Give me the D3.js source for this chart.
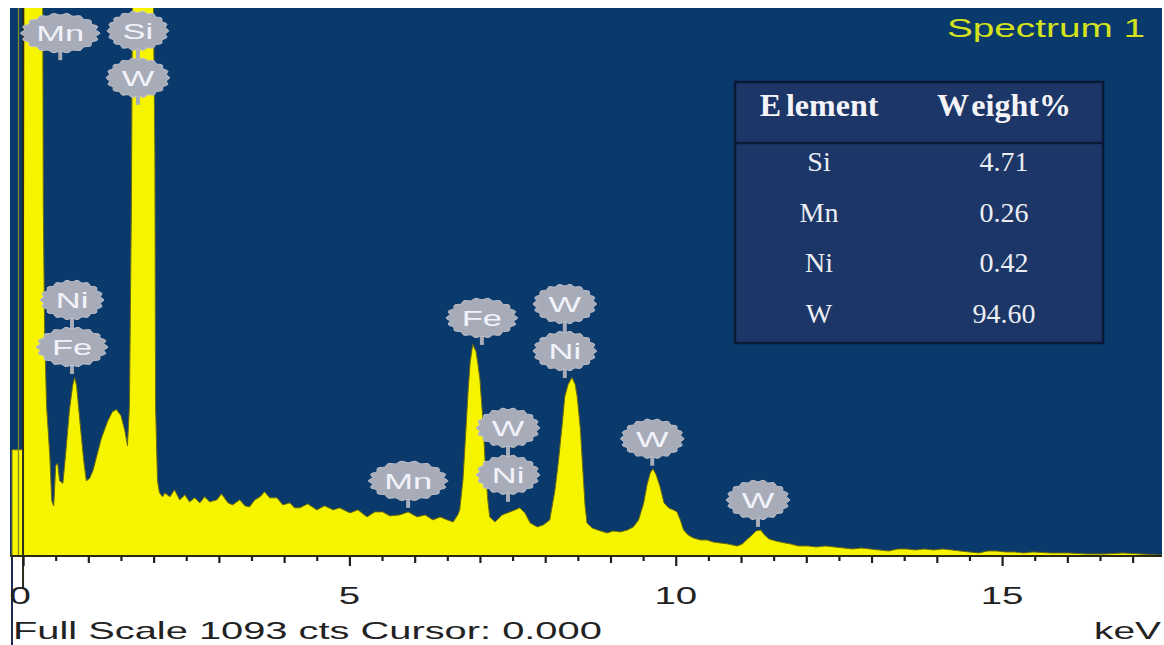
<!DOCTYPE html>
<html><head><meta charset="utf-8">
<script src="https://cdn.jsdelivr.net/npm/d3@7"></script>
<style>html,body{margin:0;padding:0;background:#fff;}svg{display:block;}</style>
</head><body>
<script>
// ---------- data ----------
const energyKeV = [-0.17,-0.02,0.00,0.02,0.28,0.30,0.31,0.33,0.36,0.41,0.44,0.47,0.50,0.53,0.56,0.61,0.65,0.71,0.76,0.79,0.82,0.87,0.93,0.97,1.02,1.07,1.13,1.20,1.30,1.37,1.43,1.50,1.56,1.60,1.63,1.66,1.69,1.97,1.99,2.02,2.03,2.06,2.09,2.14,
2.17,2.25,2.32,2.40,2.48,2.55,2.63,2.71,2.78,2.86,2.97,3.04,3.14,3.21,3.32,3.40,3.47,3.55,3.63,3.70,3.78,3.89,3.98,4.09,4.16,4.24,4.36,4.50,4.62,4.75,4.85,5.01,5.13,5.27,5.39,5.51,5.62,5.77,5.90,6.04,6.16,6.28,6.39,6.50,6.59,6.66,6.69,6.74,6.77,6.82,6.85,6.89,6.94,6.97,7.00,7.05,7.08,7.12,7.15,7.23,7.34,7.46,7.54,7.61,7.69,7.77,7.88,7.97,8.07,8.15,8.20,8.26,8.30,8.35,8.41,8.46,8.49,8.54,8.57,8.61,8.64,8.72,8.80,8.95,9.04,9.15,9.26,9.35,9.43,9.51,9.56,9.61,9.65,9.70,9.76,9.82,9.89,9.96,10.02,10.07,10.12,10.19,10.27,10.38,10.48,10.57,10.68,10.80,10.94,11.02,11.10,11.17,11.23,11.30,11.36,11.43,11.53,11.60,11.76,11.88,12.03,12.15,12.29,12.43,12.57,12.71,12.84,12.98,13.12,13.26,13.40,13.54,13.67,13.81,13.95,14.09,14.23,14.36,14.50,14.64,14.78,14.92,15.05,15.19,15.33,15.47,15.74,16.02,16.30,16.57,16.85,17.12,17.40,17.45];
const counts = [212,212,212,1500,1500,1200,700,450,300,200,110,100,180,185,150,145,200,290,340,356,340,270,190,150,155,170,200,235,270,288,292,280,250,220,300,700,1500,1500,1200,800,300,150,126,118,
126,118,132,112,122,108,116,106,118,108,112,124,106,102,112,100,98,112,118,128,116,116,102,106,96,96,104,92,100,92,96,86,92,78,88,88,80,82,88,78,82,72,78,72,68,82,92,152,218,332,386,422,408,382,352,262,186,112,78,68,82,88,92,96,86,66,58,62,72,132,186,262,318,342,356,342,318,252,186,102,66,56,52,46,50,48,52,58,72,106,142,166,174,162,138,106,96,92,88,72,52,42,36,32,32,28,26,24,20,24,34,42,50,52,42,34,30,28,24,20,20,18,20,18,16,14,16,14,12,10,14,14,12,14,12,14,12,10,8,6,10,10,8,8,6,8,6,6,4,4,6,4,2,2];

const fullScale = 1093;
const xTickLabels = [0, 5, 10, 15];

const labelKeV       = [0.57, 1.76, 0.75, 7.03, 8.30, 7.43, 5.90, 9.64, 11.26];
const labelTipCounts = [989, 900, 363, 421, 355, 108, 96, 180, 58];
const labelElements  = [["Mn"], ["Si","W"], ["Ni","Fe"], ["Fe"], ["W","Ni"], ["W","Ni"], ["Mn"], ["W"], ["W"]];

const tableElements = ["Si", "Mn", "Ni", "W"];
const tableWeights  = ["4.71", "0.26", "0.42", "94.60"];

const spectrumTitle = "Spectrum 1";
const footerText = "Full Scale 1093 cts Cursor: 0.000";
const unitText = "keV";

// ---------- layout ----------
const W = 1164, H = 645;
const P = {left: 10, right: 1162, top: 8, bottom: 556};
const svg = d3.select("body").append("svg").attr("width", W).attr("height", H);
const sansFont = "'Liberation Sans', Arial, sans-serif";
const serifFont = "'Liberation Serif', 'Times New Roman', serif";

const x = d3.scaleLinear().domain([-0.2, 17.45]).range([P.left, P.right]);
const y = d3.scaleLinear().domain([0, fullScale]).range([P.bottom, P.top]);

svg.append("rect").attr("x", P.left).attr("y", P.top)
  .attr("width", P.right - P.left).attr("height", P.bottom - P.top).attr("fill", "#0a396b");

svg.append("clipPath").attr("id", "plotclip").append("rect")
  .attr("x", P.left).attr("y", P.top).attr("width", P.right - P.left).attr("height", P.bottom - P.top);

const pts = energyKeV.map((e, i) => [e, counts[i]]);
const area = d3.area().x(d => x(d[0])).y0(y(0)).y1(d => y(d[1]));
const g = svg.append("g").attr("clip-path", "url(#plotclip)");
g.append("path").datum(pts).attr("d", area).attr("fill", "#f7f400")
  .attr("stroke", "#6b6a14").attr("stroke-width", 1).attr("stroke-linejoin", "round");

// thin olive line and cursor line
g.append("line").attr("x1", x(-0.07)).attr("x2", x(-0.07)).attr("y1", P.top).attr("y2", P.bottom)
  .attr("stroke", "#7d8a2a").attr("stroke-width", 1.3);
svg.append("line").attr("x1", x(0)).attr("x2", x(0)).attr("y1", P.top).attr("y2", 588)
  .attr("stroke", "#2b2a1a").attr("stroke-width", 2);
svg.append("line").attr("x1", 12).attr("x2", 12).attr("y1", P.bottom).attr("y2", H)
  .attr("stroke", "#1d2d55").attr("stroke-width", 2);

// ---------- axis ----------
function stretchText(parent, tx, ty, txt, size, sx, anchor, fill, font, weight) {
  return parent.append("text")
    .attr("transform", `translate(${tx},${ty}) scale(${sx},1)`)
    .attr("text-anchor", anchor).attr("font-family", font || sansFont)
    .attr("font-size", size).attr("font-weight", weight || "normal")
    .attr("fill", fill).text(txt);
}

const axG = svg.append("g").attr("transform", `translate(0,${P.bottom})`);
const mkAxis = (vals, size) => d3.axisBottom(x).tickValues(vals).tickSize(size).tickSizeOuter(0).tickFormat("");
axG.append("g").call(mkAxis(d3.range(0.5, 17.5, 1), 5));
axG.append("g").call(mkAxis(d3.range(1, 18, 1).filter(v => v % 5 !== 0), 7));
axG.append("g").call(mkAxis(xTickLabels, 10));
axG.selectAll("path.domain").attr("stroke", "none");
axG.selectAll(".tick line").attr("stroke", "#1e1e1e").attr("stroke-width", 2.2);
axG.append("line").attr("x1", P.left).attr("x2", P.right).attr("y1", 0).attr("y2", 0)
  .attr("stroke", "#2a2a12").attr("stroke-width", 2);

xTickLabels.forEach(v => {
  stretchText(svg, x(v) - (v === 0 ? 3 : 0), 604, String(v), 24, 1.6, "middle", "#222");
});
stretchText(svg, 13, 639, footerText, 24, 1.66, "start", "#222");
stretchText(svg, 1161, 639, unitText, 24, 1.62, "end", "#222");

// ---------- title ----------
stretchText(svg, 1145, 37, spectrumTitle, 25, 1.55, "end", "#d4e21c");

// ---------- element label bubbles ----------
function cloudPath(rx, ry) {
  const n = 96, p = [];
  for (let i = 0; i < n; i++) {
    const t = 2 * Math.PI * i / n;
    const r = 1 + 0.05 * Math.cos(18 * t);
    p.push([rx * r * Math.cos(t), ry * r * Math.sin(t)]);
  }
  return d3.line()(p) + "Z";
}
const bubbleFill = "#a8acb9";
const ry = 19, stem = 8, gap = 47, lblSize = 23, lblSx = 1.5, pad = 14;
const measure = svg.append("text").attr("font-family", sansFont).attr("font-size", lblSize).attr("visibility", "hidden");
function textW(t) { measure.text(t); return measure.node().getComputedTextLength() * lblSx; }

const lg = svg.append("g");
labelKeV.forEach((e, i) => {
  const cx = x(e), tip = y(labelTipCounts[i]);
  const els = labelElements[i];
  const nB = els.length;
  const bottomCy = tip - stem - ry;
  const topCy = bottomCy - (nB - 1) * gap;
  lg.append("rect").attr("x", cx - 2).attr("y", topCy).attr("width", 4).attr("height", tip - topCy)
    .attr("fill", bubbleFill);
  els.forEach((el, k) => {
    const cy = topCy + k * gap;
    const rx = textW(el) / 2 + pad;
    lg.append("path").attr("d", cloudPath(rx, ry)).attr("transform", `translate(${cx},${cy})`)
      .attr("fill", bubbleFill).attr("stroke", "#bfc2cc").attr("stroke-width", 1);
    stretchText(lg, cx, cy + 8, el, lblSize, lblSx, "middle", "#f2f3fa");
  });
});
measure.remove();

// ---------- composition table ----------
const T = {x0: 735, x1: 1103, y0: 82, y1: 343, sep: 143, c1: 819, c2: 1004};
const tg = svg.append("g");
tg.append("rect").attr("x", T.x0).attr("y", T.y0).attr("width", T.x1 - T.x0).attr("height", T.y1 - T.y0)
  .attr("fill", "#1c3767").attr("stroke", "#0b1a34").attr("stroke-width", 2.5);
tg.append("line").attr("x1", T.x0).attr("x2", T.x1).attr("y1", T.sep).attr("y2", T.sep)
  .attr("stroke", "#0b1a34").attr("stroke-width", 2.5);
const h1 = tg.append("text").attr("x", T.c1).attr("y", 116).attr("text-anchor", "middle")
  .attr("font-family", serifFont).attr("font-size", 32).attr("font-weight", "bold").attr("fill", "#f4f4f8");
h1.append("tspan").text("E"); h1.append("tspan").attr("dx", 5).text("lement");
const h2 = tg.append("text").attr("x", T.c2).attr("y", 116).attr("text-anchor", "middle")
  .attr("font-family", serifFont).attr("font-size", 32).attr("font-weight", "bold").attr("fill", "#f4f4f8");
h2.append("tspan").text("W"); h2.append("tspan").attr("dx", 4).text("eight%");
const rowY = d3.scaleLinear().domain([0, 1]).range([171, 221.5]);
tableElements.forEach((el, i) => {
  tg.append("text").attr("x", T.c1).attr("y", rowY(i)).attr("text-anchor", "middle")
    .attr("font-family", serifFont).attr("font-size", 28).attr("fill", "#eceef4").text(el);
  tg.append("text").attr("x", T.c2).attr("y", rowY(i)).attr("text-anchor", "middle")
    .attr("font-family", serifFont).attr("font-size", 28).attr("fill", "#eceef4").text(tableWeights[i]);
});
</script>
</body></html>
